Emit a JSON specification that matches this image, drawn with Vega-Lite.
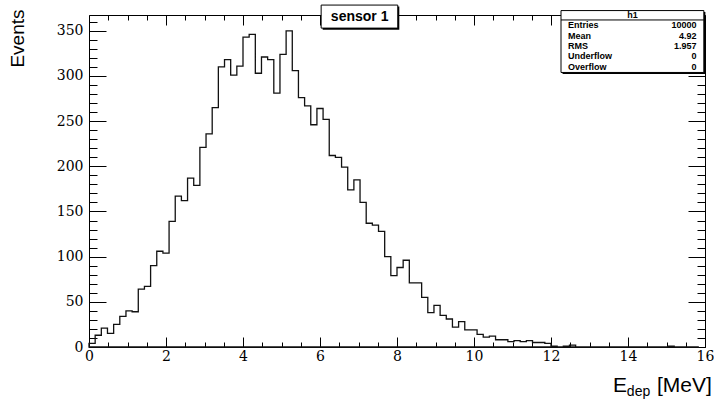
{
  "$schema": "https://vega.github.io/schema/vega-lite/v6.json",
  "width": 616,
  "height": 332,
  "autosize": {"type": "none"},
  "padding": {"left": 89, "top": 15, "right": 9, "bottom": 52},
  "background": "white",
  "config": {
    "view": {"stroke": null},
    "axis": {"grid": false, "domainColor": "#000", "tickColor": "#000", "labelColor": "#000", "labelFont": "DejaVu Serif", "labelFontSize": 14, "labelFlush": false, "labelOverlap": false}
  },
  "datasets": {
    "hist": [
      {"lo": 0, "n": 4}, {"lo": 0.16, "n": 13}, {"lo": 0.32, "n": 21}, {"lo": 0.48, "n": 15}, {"lo": 0.64, "n": 25},
      {"lo": 0.8, "n": 34}, {"lo": 0.96, "n": 40}, {"lo": 1.12, "n": 39}, {"lo": 1.28, "n": 64}, {"lo": 1.44, "n": 67},
      {"lo": 1.6, "n": 90}, {"lo": 1.76, "n": 106}, {"lo": 1.92, "n": 104}, {"lo": 2.08, "n": 139}, {"lo": 2.24, "n": 167},
      {"lo": 2.4, "n": 162}, {"lo": 2.56, "n": 187}, {"lo": 2.72, "n": 179}, {"lo": 2.88, "n": 221}, {"lo": 3.04, "n": 236},
      {"lo": 3.2, "n": 265}, {"lo": 3.36, "n": 310}, {"lo": 3.52, "n": 318}, {"lo": 3.68, "n": 301}, {"lo": 3.84, "n": 311},
      {"lo": 4, "n": 343}, {"lo": 4.16, "n": 346}, {"lo": 4.32, "n": 303}, {"lo": 4.48, "n": 321}, {"lo": 4.64, "n": 318},
      {"lo": 4.8, "n": 281}, {"lo": 4.96, "n": 324}, {"lo": 5.12, "n": 350}, {"lo": 5.28, "n": 306}, {"lo": 5.44, "n": 276},
      {"lo": 5.6, "n": 267}, {"lo": 5.76, "n": 246}, {"lo": 5.92, "n": 264}, {"lo": 6.08, "n": 252}, {"lo": 6.24, "n": 212},
      {"lo": 6.4, "n": 210}, {"lo": 6.56, "n": 199}, {"lo": 6.72, "n": 174}, {"lo": 6.88, "n": 185}, {"lo": 7.04, "n": 160},
      {"lo": 7.2, "n": 137}, {"lo": 7.36, "n": 135}, {"lo": 7.52, "n": 128}, {"lo": 7.68, "n": 100}, {"lo": 7.84, "n": 79},
      {"lo": 8, "n": 88}, {"lo": 8.16, "n": 96}, {"lo": 8.32, "n": 71}, {"lo": 8.48, "n": 71}, {"lo": 8.64, "n": 55},
      {"lo": 8.8, "n": 38}, {"lo": 8.96, "n": 46}, {"lo": 9.12, "n": 35}, {"lo": 9.28, "n": 31}, {"lo": 9.44, "n": 22},
      {"lo": 9.6, "n": 28}, {"lo": 9.76, "n": 19}, {"lo": 9.92, "n": 19}, {"lo": 10.08, "n": 14}, {"lo": 10.24, "n": 11},
      {"lo": 10.4, "n": 12}, {"lo": 10.56, "n": 8}, {"lo": 10.72, "n": 8}, {"lo": 10.88, "n": 6}, {"lo": 11.04, "n": 7},
      {"lo": 11.2, "n": 6}, {"lo": 11.36, "n": 7}, {"lo": 11.52, "n": 5}, {"lo": 11.68, "n": 5}, {"lo": 11.84, "n": 4},
      {"lo": 12, "n": 1}, {"lo": 12.16, "n": 0}, {"lo": 12.32, "n": 1}, {"lo": 12.48, "n": 2}, {"lo": 12.64, "n": 0},
      {"lo": 12.8, "n": 0}, {"lo": 12.96, "n": 0}, {"lo": 13.12, "n": 0}, {"lo": 13.28, "n": 0}, {"lo": 13.44, "n": 0},
      {"lo": 13.6, "n": 0}, {"lo": 13.76, "n": 0}, {"lo": 13.92, "n": 0}, {"lo": 14.08, "n": 0}, {"lo": 14.24, "n": 0},
      {"lo": 14.4, "n": 0}, {"lo": 14.56, "n": 0}, {"lo": 14.72, "n": 0}, {"lo": 14.88, "n": 0}, {"lo": 15.04, "n": 1},
      {"lo": 15.2, "n": 0}, {"lo": 15.36, "n": 0}, {"lo": 15.52, "n": 0}, {"lo": 15.68, "n": 0}, {"lo": 15.84, "n": 0}
    ],
    "one": [{}]
  },
  "resolve": {"axis": {"x": "independent", "y": "independent"}},
  "layer": [
    {
      "data": {"name": "hist"},
      "mark": {"type": "area", "interpolate": "step-after", "fill": "white", "fillOpacity": 0, "stroke": "#111", "strokeWidth": 1.3},
      "encoding": {
        "x": {"field": "lo", "type": "quantitative", "scale": {"domain": [0, 16], "nice": false, "zero": false},
          "axis": {"orient": "bottom", "values": [0, 2, 4, 6, 8, 10, 12, 14, 16], "tickSize": -10, "labelPadding": 12, "title": null}},
        "y": {"field": "n", "type": "quantitative", "scale": {"domain": [0, 367.5], "nice": false},
          "axis": {"orient": "left", "values": [0, 50, 100, 150, 200, 250, 300, 350], "tickSize": -17, "labelPadding": 23,
            "title": "Events", "titleFont": "Liberation Sans", "titleFontSize": 19, "titleFontWeight": "normal", "titleColor": "#000",
            "titleAngle": 270, "titleAlign": "right", "titleBaseline": "middle", "titleX": -72, "titleY": -6}}
      }
    },
    {
      "data": {"name": "one"},
      "mark": {"type": "rect", "fill": "#000"},
      "encoding": {
        "x": {"datum": 6.07, "type": "quantitative", "scale": {"domain": [0, 16], "nice": false, "zero": false},
          "axis": {"orient": "top", "values": [0, 2, 4, 6, 8, 10, 12, 14, 16], "tickSize": -10, "labels": false, "title": null}},
        "x2": {"datum": 8.06},
        "y": {"datum": 351.3, "type": "quantitative", "scale": {"domain": [0, 367.5], "nice": false},
          "axis": {"orient": "right", "values": [0, 50, 100, 150, 200, 250, 300, 350], "tickSize": -17, "labels": false, "title": null}},
        "y2": {"datum": 376.8}
      }
    },
    {
      "data": {"name": "one"},
      "mark": {"type": "rect", "fill": "white", "stroke": "#000", "strokeWidth": 1},
      "encoding": {
        "x": {"datum": 6.03, "type": "quantitative", "scale": {"domain": [0, 16], "nice": false, "zero": false},
          "axis": {"orient": "top", "values": [0.5, 1, 1.5, 2.5, 3, 3.5, 4.5, 5, 5.5, 6.5, 7, 7.5, 8.5, 9, 9.5, 10.5, 11, 11.5, 12.5, 13, 13.5, 14.5, 15, 15.5], "tickSize": -5, "labels": false, "domain": false, "title": null}},
        "x2": {"datum": 8.02},
        "y": {"datum": 353, "type": "quantitative", "scale": {"domain": [0, 367.5], "nice": false},
          "axis": {"orient": "right", "values": [10, 20, 30, 40, 60, 70, 80, 90, 110, 120, 130, 140, 160, 170, 180, 190, 210, 220, 230, 240, 260, 270, 280, 290, 310, 320, 330, 340, 360], "tickSize": -8, "labels": false, "domain": false, "title": null}},
        "y2": {"datum": 378.5}
      }
    },
    {
      "data": {"name": "one"},
      "mark": {"type": "text", "text": "sensor 1", "font": "Liberation Sans", "fontSize": 14, "fontWeight": "bold", "color": "#000", "align": "center", "baseline": "middle"},
      "encoding": {
        "x": {"datum": 7.03, "type": "quantitative", "scale": {"domain": [0, 16], "nice": false, "zero": false},
          "axis": {"orient": "bottom", "values": [0.5, 1, 1.5, 2.5, 3, 3.5, 4.5, 5, 5.5, 6.5, 7, 7.5, 8.5, 9, 9.5, 10.5, 11, 11.5, 12.5, 13, 13.5, 14.5, 15, 15.5], "tickSize": -5, "labels": false, "domain": false, "title": null}},
        "y": {"datum": 365.5, "type": "quantitative", "scale": {"domain": [0, 367.5], "nice": false},
          "axis": {"orient": "left", "values": [10, 20, 30, 40, 60, 70, 80, 90, 110, 120, 130, 140, 160, 170, 180, 190, 210, 220, 230, 240, 260, 270, 280, 290, 310, 320, 330, 340, 360], "tickSize": -8, "labels": false, "domain": false, "title": null}}
      }
    },
    {
      "data": {"name": "one"},
      "mark": {"type": "rect", "fill": "#000"},
      "encoding": {
        "x": {"datum": 12.3, "type": "quantitative", "scale": {"domain": [0, 16], "nice": false, "zero": false}, "axis": null},
        "x2": {"datum": 16.01},
        "y": {"datum": 302.2, "type": "quantitative", "scale": {"domain": [0, 367.5], "nice": false}, "axis": null},
        "y2": {"datum": 370.7}
      }
    },
    {
      "data": {"name": "one"},
      "mark": {"type": "rect", "fill": "white", "stroke": "#000", "strokeWidth": 1},
      "encoding": {
        "x": {"datum": 12.26, "type": "quantitative", "scale": {"domain": [0, 16], "nice": false, "zero": false}, "axis": null},
        "x2": {"datum": 15.97},
        "y": {"datum": 303.9, "type": "quantitative", "scale": {"domain": [0, 367.5], "nice": false}, "axis": null},
        "y2": {"datum": 372.4}
      }
    },
    {
      "data": {"name": "one"},
      "mark": {"type": "rule", "stroke": "#000", "strokeWidth": 1},
      "encoding": {
        "x": {"datum": 12.26, "type": "quantitative", "scale": {"domain": [0, 16], "nice": false, "zero": false}, "axis": null},
        "x2": {"datum": 15.97},
        "y": {"datum": 362, "type": "quantitative", "scale": {"domain": [0, 367.5], "nice": false}, "axis": null}
      }
    },
    {
      "data": {"name": "one"},
      "mark": {"type": "text", "text": "h1", "font": "Liberation Sans", "fontSize": 9, "fontWeight": "bold", "color": "#000", "align": "center", "baseline": "middle"},
      "encoding": {
        "x": {"datum": 14.115, "type": "quantitative", "scale": {"domain": [0, 16], "nice": false, "zero": false}, "axis": null},
        "y": {"datum": 367.2, "type": "quantitative", "scale": {"domain": [0, 367.5], "nice": false}, "axis": null}
      }
    },
    {
      "data": {"name": "one"},
      "mark": {"type": "text", "text": ["Entries", "Mean", "RMS", "Underflow", "Overflow"], "lineHeight": 10.35, "font": "Liberation Sans", "fontSize": 9, "fontWeight": "bold", "color": "#000", "align": "left", "baseline": "middle"},
      "encoding": {
        "x": {"datum": 12.44, "type": "quantitative", "scale": {"domain": [0, 16], "nice": false, "zero": false}, "axis": null},
        "y": {"datum": 356.1, "type": "quantitative", "scale": {"domain": [0, 367.5], "nice": false}, "axis": null}
      }
    },
    {
      "data": {"name": "one"},
      "mark": {"type": "text", "text": ["10000", "4.92", "1.957", "0", "0"], "lineHeight": 10.35, "font": "Liberation Sans", "fontSize": 9, "fontWeight": "bold", "color": "#000", "align": "right", "baseline": "middle"},
      "encoding": {
        "x": {"datum": 15.78, "type": "quantitative", "scale": {"domain": [0, 16], "nice": false, "zero": false}, "axis": null},
        "y": {"datum": 356.1, "type": "quantitative", "scale": {"domain": [0, 367.5], "nice": false}, "axis": null}
      }
    },
    {
      "data": {"name": "one"},
      "mark": {"type": "text", "text": "E", "font": "Liberation Sans", "fontSize": 21, "color": "#000", "align": "left", "baseline": "alphabetic"},
      "encoding": {
        "x": {"datum": 13.61, "type": "quantitative", "scale": {"domain": [0, 16], "nice": false, "zero": false}, "axis": null},
        "y": {"datum": -49.3, "type": "quantitative", "scale": {"domain": [0, 367.5], "nice": false}, "axis": null}
      }
    },
    {
      "data": {"name": "one"},
      "mark": {"type": "text", "text": "dep", "font": "Liberation Sans", "fontSize": 14, "color": "#000", "align": "left", "baseline": "alphabetic"},
      "encoding": {
        "x": {"datum": 13.97, "type": "quantitative", "scale": {"domain": [0, 16], "nice": false, "zero": false}, "axis": null},
        "y": {"datum": -53.7, "type": "quantitative", "scale": {"domain": [0, 367.5], "nice": false}, "axis": null}
      }
    },
    {
      "data": {"name": "one"},
      "mark": {"type": "text", "text": "[MeV]", "font": "Liberation Sans", "fontSize": 21, "color": "#000", "align": "left", "baseline": "alphabetic"},
      "encoding": {
        "x": {"datum": 14.75, "type": "quantitative", "scale": {"domain": [0, 16], "nice": false, "zero": false}, "axis": null},
        "y": {"datum": -49.3, "type": "quantitative", "scale": {"domain": [0, 367.5], "nice": false}, "axis": null}
      }
    }
  ]
}
